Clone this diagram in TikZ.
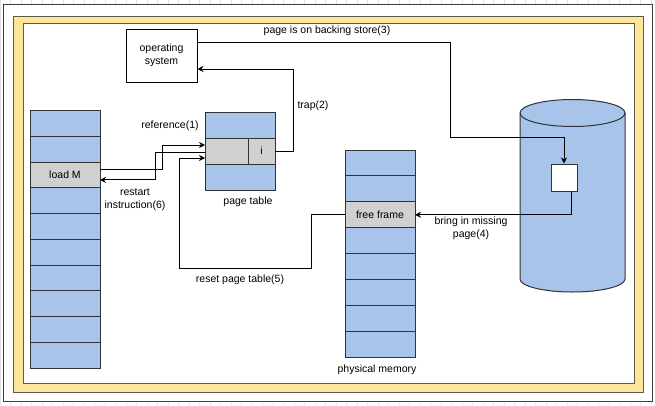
\documentclass[tikz,border=0pt]{standalone}
\usepackage{fontspec}
\setmainfont{Liberation Sans}
\usetikzlibrary{arrows.meta,calc}
\definecolor{cblue}{HTML}{A9C4EB}
\definecolor{cgray}{HTML}{D0D0D0}
\definecolor{cyel}{HTML}{FFE599}
\definecolor{cedge}{HTML}{303336}
\definecolor{cband}{HTML}{5F5A48}
\definecolor{cgrid}{HTML}{E2E2E2}
\begin{document}
\begin{tikzpicture}[x=1pt,y=-1pt,
  font=\fontsize{10.5}{13}\selectfont,
  cell/.style={draw=cedge, line width=1pt, inner sep=0pt, outer sep=0pt, minimum width=70pt},
  lmcell/.style={cell, minimum height=25.75pt},
  pmcell/.style={cell, minimum height=25.9pt},
  ptcell/.style={cell, minimum height=26pt},
  bluec/.style={fill=cblue},
  grayc/.style={fill=cgray},
  lbl/.style={inner sep=0pt, align=center},
  conn/.style={draw=black, line width=0.8pt},
  arr/.style={conn, -{Stealth[length=6pt,width=6pt]}}
]
\useasboundingbox (0,0) rectangle (655,405);
% background grid
\draw[cgrid, line width=0.5pt] (0,0) grid[step=10.5] (655,405);
% outer frame
\filldraw[fill=white, draw=black!75, line width=0.8pt] (3,4) rectangle (652,401);
% yellow band
\filldraw[fill=cyel, draw=cband, line width=1pt] (13,16) rectangle (643,392);
\filldraw[fill=white, draw=cband, line width=1pt] (23,23) rectangle (634,383);

% logical memory
\foreach \i in {0,1,3,4,5,6,7,8,9}{
  \node[lmcell, bluec] (lm\i) at (65,{110.5+25.75*(\i+0.5)}) {};
}
\node[lmcell, grayc] (lm2) at (65,{110.5+25.75*2.5}) {load M};

% page table
\node[ptcell, bluec] (pt0) at (240,125) {};
\node[ptcell, grayc, minimum width=43pt] (pt1a) at (226.5,151) {};
\node[ptcell, grayc, minimum width=27pt] (pt1b) at (261.5,151) {i};
\node[ptcell, bluec] (pt2) at (240,177) {};

% physical memory
\foreach \i in {0,1,3,4,5,6,7}{
  \node[pmcell, bluec] (pm\i) at (380,{150+25.9*(\i+0.5)}) {};
}
\node[pmcell, grayc] (ff) at (380,{150+25.9*2.5}) {free frame};

% operating system
\node[draw=black, line width=1pt, fill=white, minimum width=71pt, minimum height=53pt, inner sep=0pt, align=center] (os) at (161.5,55.5) {operating\\system};

% backing store cylinder
\filldraw[fill=cblue, draw=cedge, line width=1pt]
  (520,113) -- (520,279) arc[start angle=180, end angle=360, x radius=52.5pt, y radius=13pt]
  -- (625,113) arc[start angle=0, end angle=180, x radius=52.5pt, y radius=13.5pt] -- cycle;
\draw[cedge, line width=1pt] (520,113) arc[start angle=180, end angle=360, x radius=52.5pt, y radius=13.5pt];
\node[draw=cedge, line width=1pt, fill=white, minimum width=26pt, minimum height=27pt, inner sep=0pt] (sq) at (564,177.5) {};

% labels
\node[lbl] (l3) at (327,31) {page is on backing store(3)};
\node[lbl] (l2) at (313,106) {trap(2)};
\node[lbl] (l1) at (170,126) {reference(1)};
\node[lbl] (l6) at (135,199.5) {restart\\instruction(6)};
\node[lbl] (lpt) at (248,202) {page table};
\node[lbl] (l4) at (471,228.5) {bring in missing\\page(4)};
\node[lbl] (l5) at (240,280) {reset page table(5)};
\node[lbl] (lpm) at (377,370) {physical memory};

% connectors
% reference(1)
\draw[arr] ($(lm2.east)+(0,-5)$) -| ($(pt1a.west)+(-43,-6)$) -- ($(pt1a.west)+(0,-6)$);
% restart(6)
\draw[arr] ($(pt1a.west)+(0,1)$) -- ++(-50,0) |- ($(lm2.east)+(0,5)$);
% trap(2)
\draw[arr] (pt1b.east) -- ++(18,0) |- ($(os.east)+(0,13.5)$);
% page is on backing store(3)
\draw[arr] ($(os.east)+(0,-13.5)$) -- ++(253,0) -- ++(0,95) -| (sq.north);
% bring in missing page(4)
\draw[arr] ($(sq.south)+(7,0)$) |- (ff.east);
% reset page table(5)
\draw[arr] (ff.west) -- ++(-34,0) -- ++(0,54) -| ($(pt1a.west)+(-26,7)$) -- ($(pt1a.west)+(0,7)$);
\end{tikzpicture}
\end{document}
